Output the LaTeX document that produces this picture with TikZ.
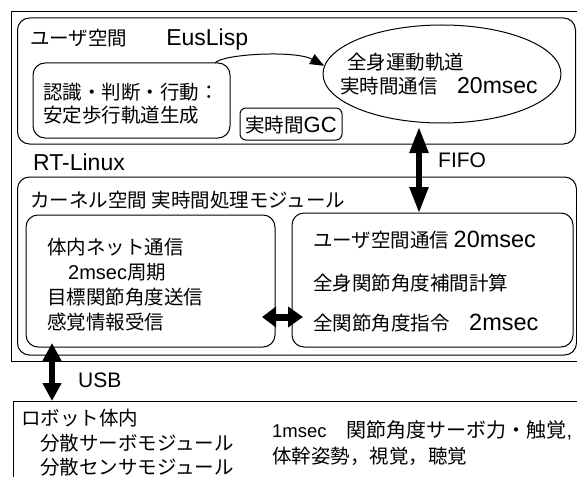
\documentclass[tikz,border=0pt]{standalone}
\usepackage{fontspec}
\setmainfont{Noto Sans CJK JP}
\newfontfamily\latf{Liberation Sans}
\usetikzlibrary{arrows.meta,shapes.geometric}
\newcommand{\lt}[2][23]{{\latf\fontsize{#1}{24}\selectfont #2}}
\tikzset{
  box/.style={draw, line width=1pt, inner sep=0pt, outer sep=0pt, anchor=north west},
  rbox/.style={box, rounded corners=12pt},
  txt/.style={anchor=west, inner sep=0pt, font=\fontsize{19.5}{24}\selectfont},
  fatv/.style={line width=5.5pt, {Triangle[width=18pt,length=26pt]}-{Triangle[width=18pt,length=26pt]}},
  fatu/.style={line width=6pt, {Triangle[width=18pt,length=18pt]}-{Triangle[width=18pt,length=18pt]}},
  fath/.style={line width=7pt, {Triangle[width=20pt,length=14pt]}-{Triangle[width=20pt,length=15pt]}},
  thin/.style={line width=1pt, -{Triangle[width=11pt,length=14pt]}},
}
\begin{document}
\begin{tikzpicture}[x=1pt,y=-1pt]
\useasboundingbox (0,0) rectangle (577,476);
% boxes
\node[box, minimum width=580pt, minimum height=349.5pt] (outer) at (11.5,11.5) {};
\node[rbox, minimum width=558pt, minimum height=126pt] (user) at (17.5,18) {};
\node[rbox, minimum width=197pt, minimum height=75pt] (plan) at (33,63) {};
\node[box, rounded corners=6pt, minimum width=102pt, minimum height=32pt] (gc) at (240,108) {};
\node[draw, ellipse, line width=1pt, inner sep=0pt, minimum width=238pt, minimum height=98pt] (traj) at (442,74) {};
\node[rbox, minimum width=559pt, minimum height=178pt] (kern) at (17.5,177) {};
\node[rbox, minimum width=249pt, minimum height=132pt] (kl) at (26,215) {};
\node[rbox, minimum width=281pt, minimum height=134pt] (kr) at (292,213) {};
\node[box, minimum width=580pt, minimum height=90pt] (robot) at (13,401) {};
% texts
\node[txt] (t1) at (30,40) {ユーザ空間　　\lt{EusLisp}};
\node[txt] (t2) at (43,92) {認識・判断・行動：};
\node[txt] (t3) at (43,115) {安定歩行軌道生成};
\node[txt] (t4) at (245,125) {実時間\lt[22]{GC}};
\node[txt] (t5) at (347,62) {全身運動軌道};
\node[txt] (t6) at (340,86) {実時間通信　\lt{20msec}};
\node[txt] (t7) at (33,162) {\lt{RT-Linux}};
\node[txt] (t8) at (438,160) {\lt[21]{FIFO}};
\node[txt] (t9) at (30,200) {カーネル空間 実時間処理モジュール};
\node[txt] (t10) at (47,247) {体内ネット通信};
\node[txt] (t11) at (68,272) {\lt[20]{2msec}周期};
\node[txt] (t12) at (47,297) {目標関節角度送信};
\node[txt] (t13) at (47,322) {感覚情報受信};
\node[txt] (t14) at (313,240) {ユーザ空間通信 \lt[23.5]{20msec}};
\node[txt] (t15) at (313,283) {全身関節角度補間計算};
\node[txt] (t16) at (313,323) {全関節角度指令　\lt[23.5]{2msec}};
\node[txt] (t17) at (78,380) {\lt[21]{USB}};
\node[txt] (t18) at (21,418) {ロボット体内};
\node[txt] (t19) at (40,443) {分散サーボモジュール};
\node[txt] (t20) at (40,467) {分散センサモジュール};
\node[txt, font=\fontsize{20}{24}\selectfont] (t21) at (272,430) {\lt[18.5]{1msec}　関節角度サーボ力・触覚\lt[20]{,}};
\node[txt] (t22) at (272,456) {体幹姿勢，視覚，聴覚};
% connectors
\coordinate (fifo) at (419,127);
\coordinate (usb) at (52,343);
\coordinate (ha) at (262,317);
\coordinate (hb) at (303,317);
\draw[thin] ([xshift=-15pt]plan.north east) .. controls (222,54) and (295,50) .. (traj.176);
\draw[fatv] (fifo) -- (fifo |- kr.north);
\draw[fatu] (usb) -- (usb |- robot.north);
\draw[fath] (ha) -- (hb);
\end{tikzpicture}
\end{document}
